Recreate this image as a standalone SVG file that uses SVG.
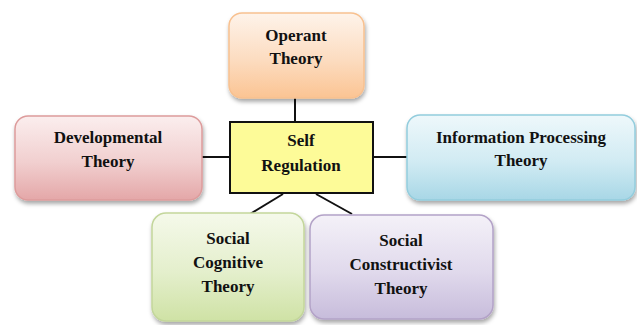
<svg xmlns="http://www.w3.org/2000/svg" width="637" height="325" viewBox="0 0 637 325">
<defs>
<linearGradient id="gOr" x1="0" y1="0" x2="0" y2="1"><stop offset="0" stop-color="#fef3ea"/><stop offset="0.55" stop-color="#fcdcc0"/><stop offset="1" stop-color="#fbc493"/></linearGradient>
<linearGradient id="gRd" x1="0" y1="0" x2="0" y2="1"><stop offset="0" stop-color="#fbeeee"/><stop offset="0.55" stop-color="#f1cfcf"/><stop offset="1" stop-color="#e4a7a8"/></linearGradient>
<linearGradient id="gBl" x1="0" y1="0" x2="0" y2="1"><stop offset="0" stop-color="#eef8fb"/><stop offset="0.55" stop-color="#d1ebf3"/><stop offset="1" stop-color="#a8d7e6"/></linearGradient>
<linearGradient id="gGr" x1="0" y1="0" x2="0" y2="1"><stop offset="0" stop-color="#f5f9ea"/><stop offset="0.55" stop-color="#e4efcc"/><stop offset="1" stop-color="#cfe2a5"/></linearGradient>
<linearGradient id="gPu" x1="0" y1="0" x2="0" y2="1"><stop offset="0" stop-color="#f4f1f8"/><stop offset="0.55" stop-color="#e0d9ec"/><stop offset="1" stop-color="#c7bcdb"/></linearGradient>
<filter id="sh" x="-10%" y="-10%" width="125%" height="135%"><feDropShadow dx="1" dy="3" stdDeviation="2" flood-color="#000" flood-opacity="0.35"/></filter>
</defs>
<style>
.t{font-family:"Liberation Serif","Times New Roman",serif;font-weight:bold;font-size:17px;fill:#111;text-anchor:middle}
.b{stroke-width:1.5}
.c{stroke:#111;stroke-width:2;fill:none}
</style>
<g id="connectors">
<line class="c" x1="295" y1="98" x2="295" y2="122"/>
<line class="c" x1="202" y1="157" x2="230" y2="157"/>
<line class="c" x1="373" y1="157" x2="407" y2="157"/>
<line class="c" x1="283" y1="194" x2="250" y2="214"/>
<line class="c" x1="316" y1="194" x2="352" y2="214"/>
</g>
<g id="operant">
<rect class="b" x="229" y="13" width="135" height="85" rx="13" fill="url(#gOr)" stroke="#f8c190" filter="url(#sh)"/>
<text class="t" x="296" y="41">Operant</text>
<text class="t" x="296" y="64">Theory</text>
</g>
<g id="developmental">
<rect class="b" x="15" y="116" width="187" height="84" rx="13" fill="url(#gRd)" stroke="#dd9c9c" filter="url(#sh)"/>
<text class="t" x="108" y="143">Developmental</text>
<text class="t" x="108" y="167">Theory</text>
</g>
<g id="self-regulation">
<rect x="230" y="122" width="143" height="71" fill="#fdfb98" stroke="#111" stroke-width="2"/>
<text class="t" x="301" y="146">Self</text>
<text class="t" x="301" y="171">Regulation</text>
</g>
<g id="information-processing">
<rect class="b" x="407" y="115" width="228" height="85" rx="13" fill="url(#gBl)" stroke="#93cddd" filter="url(#sh)"/>
<text class="t" x="521" y="143">Information Processing</text>
<text class="t" x="521" y="166">Theory</text>
</g>
<g id="social-cognitive">
<rect class="b" x="152" y="213" width="152" height="108" rx="14" fill="url(#gGr)" stroke="#c3d69b" filter="url(#sh)"/>
<text class="t" x="228" y="244">Social</text>
<text class="t" x="228" y="268">Cognitive</text>
<text class="t" x="228" y="292">Theory</text>
</g>
<g id="social-constructivist">
<rect class="b" x="310" y="215" width="183" height="104" rx="14" fill="url(#gPu)" stroke="#b3a2c7" filter="url(#sh)"/>
<text class="t" x="401" y="246">Social</text>
<text class="t" x="401" y="270">Constructivist</text>
<text class="t" x="401" y="294">Theory</text>
</g>
</svg>
